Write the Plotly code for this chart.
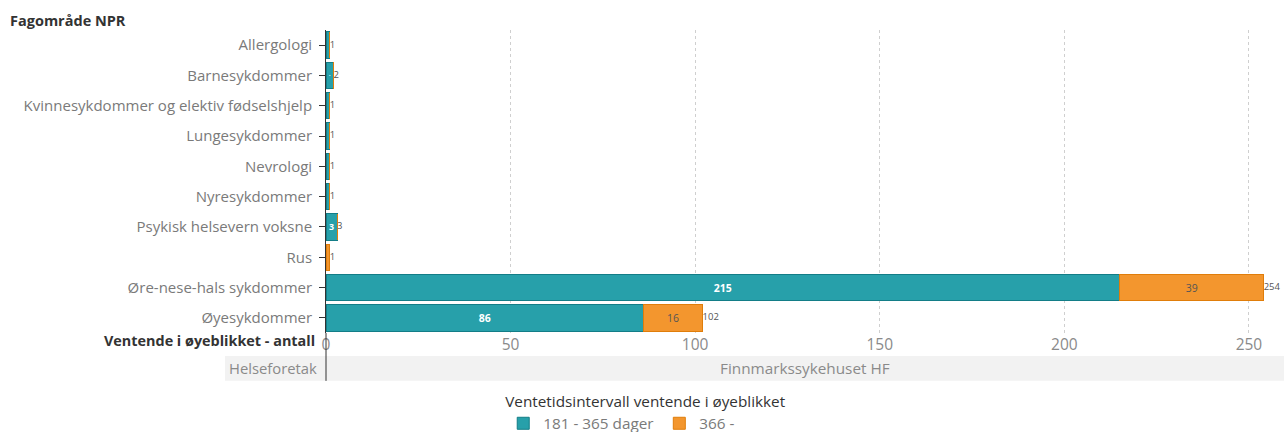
import plotly.graph_objects as go

categories = ["Allergologi", "Barnesykdommer", "Kvinnesykdommer og elektiv fødselshjelp",
              "Lungesykdommer", "Nevrologi", "Nyresykdommer", "Psykisk helsevern voksne",
              "Rus", "Øre-nese-hals sykdommer", "Øyesykdommer"]
v_181_365 = [1, 2, 1, 1, 1, 1, 3, 0, 215, 86]
v_366 = [0, 0, 0, 0, 0, 0, 0, 1, 39, 16]
totals = [a + b for a, b in zip(v_181_365, v_366)]
x_ticks = [0, 50, 100, 150, 200, 250]

FONT = "'Open Sans', sans-serif"

fig = go.Figure()
fig.add_trace(go.Bar(
    y=categories, x=v_181_365, orientation="h", name="181 - 365 dager",
    marker=dict(color="#27a0aa", line=dict(color="#137d87", width=1)),
    text=[str(v) if v >= 2 else "" for v in v_181_365],
    textposition="inside", insidetextanchor="middle",
    textfont=dict(color="white", size=10.5, family=FONT, weight="bold"),
    hoverinfo="skip",
))
fig.add_trace(go.Bar(
    y=categories, x=v_366, orientation="h", name="366 -",
    marker=dict(color="#f3962e", line=dict(color="#e07d0a", width=1)),
    text=[str(v) if v >= 2 else "" for v in v_366],
    textposition="inside", insidetextanchor="middle",
    textfont=dict(color="#555555", size=10.5, family=FONT),
    hoverinfo="skip",
))
fig.add_trace(go.Scatter(
    y=categories, x=totals, mode="text", text=[str(t) for t in totals],
    textposition="middle right", textfont=dict(color="#555555", size=9.5, family=FONT),
    showlegend=False, hoverinfo="skip", cliponaxis=False,
))

fig.update_layout(
    width=1284, height=432,
    margin=dict(l=326, r=0, t=30, b=99, autoexpand=False),
    barmode="stack", bargap=0.13,
    plot_bgcolor="white", paper_bgcolor="white",
    font=dict(family=FONT, color="#6b6b6b", size=13),
    xaxis=dict(range=[0, 259.5], tickvals=x_ticks, showgrid=True, gridcolor="#cfcfcf",
               griddash="dot", zeroline=False, showline=False, ticks="", automargin=False,
               tickfont=dict(size=15.5, color="#8a8a8a"), fixedrange=True),
    yaxis=dict(autorange="reversed", showline=True, linecolor="#333333", linewidth=1,
               ticks="outside", ticklen=6, tickcolor="#333333", showgrid=False, automargin=False,
               tickfont=dict(size=15, color="#7a7a7a"), ticksuffix=" ", fixedrange=True),
    legend=dict(orientation="h", x=0.185, y=-0.178, xanchor="left", yanchor="top",
                traceorder="normal",
                title=dict(text="Ventetidsintervall ventende i øyeblikket", side="top",
                           font=dict(size=15.3, color="#333333")),
                font=dict(size=15.3, color="#7a7a7a"), itemwidth=30, tracegroupgap=0),
    shapes=[
        dict(type="rect", xref="paper", yref="paper", x0=-0.1054, x1=1.0, y0=-0.158, y1=-0.0759,
             fillcolor="#f2f2f2", line=dict(width=0), layer="below"),
        dict(type="line", xref="paper", yref="paper", x0=0, x1=0, y0=0, y1=-0.158,
             line=dict(color="#333333", width=1)),
    ],
    annotations=[
        dict(text="<b>Fagområde NPR</b>", xref="paper", yref="paper", x=-0.332, y=1.033,
             xanchor="left", yanchor="middle", showarrow=False, font=dict(size=14.5, color="#333333")),
        dict(text="<b>Ventende i øyeblikket - antall</b>", xref="paper", yref="paper", x=-0.0095,
             y=-0.026, xanchor="right", yanchor="middle", showarrow=False,
             font=dict(size=14.4, color="#333333")),
        dict(text="Helseforetak", xref="paper", yref="paper", x=-0.007, y=-0.1155,
             xanchor="right", yanchor="middle", showarrow=False, font=dict(size=14.8, color="#8a8a8a")),
        dict(text="Finnmarkssykehuset HF", xref="paper", yref="paper", x=0.5, y=-0.1155,
             xanchor="center", yanchor="middle", showarrow=False, font=dict(size=15.3, color="#8a8a8a")),
    ],
)

fig.write_html("out.html", config={"displayModeBar": False},
               post_script="document.body.style.margin='0';document.body.style.overflow='hidden';")
